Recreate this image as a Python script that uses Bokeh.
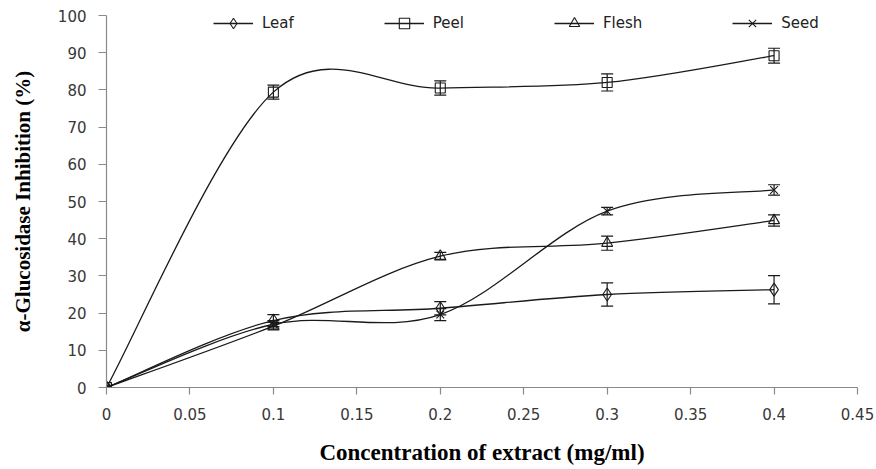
import numpy as np
from bokeh.plotting import figure
from bokeh.models import (Range1d, FixedTicker, Legend, LegendItem, Whisker,
                          TeeHead, ColumnDataSource)
from bokeh.embed import file_html
from bokeh.resources import INLINE

# ---------------- data ----------------
conc = [0, 0.1, 0.2, 0.3, 0.4]
series_names = ["Leaf", "Peel", "Flesh", "Seed"]
leaf = [0, 18.0, 21.3, 25.0, 26.3]
leaf_err = [0, 1.6, 1.8, 3.1, 3.8]
peel = [0, 79.4, 80.5, 82.0, 89.2]
peel_err = [0, 1.9, 1.9, 2.3, 2.0]
flesh = [0, 16.5, 35.3, 38.8, 44.9]
flesh_err = [0, 1.0, 1.0, 1.9, 1.5]
seed = [0, 17.0, 19.6, 47.4, 53.1]
seed_err = [0, 1.0, 1.6, 1.0, 1.4]

x_ticks = [0, 0.05, 0.1, 0.15, 0.2, 0.25, 0.3, 0.35, 0.4, 0.45]
x_tick_labels = ["0", "0.05", "0.1", "0.15", "0.2", "0.25", "0.3", "0.35", "0.4", "0.45"]
y_ticks = [0, 10, 20, 30, 40, 50, 60, 70, 80, 90, 100]

x_title = "Concentration of extract (mg/ml)"
y_title = "\u03b1-Glucosidase Inhibition (%)"

values = [leaf, peel, flesh, seed]
errors = [leaf_err, peel_err, flesh_err, seed_err]
markers = ["diamond", "square", "triangle", "x"]
marker_sizes = [13, 10, 11, 11]

INK = "#1a1a1a"
AXIS = "#8a8a8a"

p = figure(width=876, height=469, output_backend="svg", toolbar_location=None,
           x_range=Range1d(0, 0.45), y_range=Range1d(0, 100),
           min_border_left=106, min_border_right=19, min_border_top=15,
           min_border_bottom=82, background_fill_color="white",
           border_fill_color="white")
p.outline_line_color = None
p.grid.visible = False


def smooth_segments(xs, ys):
    """Excel-style smoothed line: cubic Bezier control points."""
    P = np.column_stack([xs, ys]).astype(float)
    n = len(P)
    out = {k: [] for k in ["x0", "y0", "x1", "y1", "cx0", "cy0", "cx1", "cy1"]}
    for i in range(n - 1):
        pm = P[i - 1] if i > 0 else P[i]
        pp = P[i + 2] if i + 2 < n else P[i + 1]
        c1 = P[i] + (P[i + 1] - pm) / 6.0
        c2 = P[i + 1] - (pp - P[i]) / 6.0
        out["x0"].append(P[i][0]); out["y0"].append(P[i][1])
        out["x1"].append(P[i + 1][0]); out["y1"].append(P[i + 1][1])
        out["cx0"].append(c1[0]); out["cy0"].append(c1[1])
        out["cx1"].append(c2[0]); out["cy1"].append(c2[1])
    return out


items = []
for name, ys, errs, mk, ms in zip(series_names, values, errors, markers, marker_sizes):
    seg = ColumnDataSource(smooth_segments(conc, ys))
    br = p.bezier(x0="x0", y0="y0", x1="x1", y1="y1", cx0="cx0", cy0="cy0",
                  cx1="cx1", cy1="cy1", source=seg, line_color=INK, line_width=1.3)
    # error bars (skip zero-error points)
    ex = [x for x, e in zip(conc, errs) if e > 0]
    up = [y + e for y, e in zip(ys, errs) if e > 0]
    lo = [y - e for y, e in zip(ys, errs) if e > 0]
    esrc = ColumnDataSource(dict(x=ex, upper=up, lower=lo))
    w = Whisker(base="x", upper="upper", lower="lower", source=esrc,
                line_color=INK, line_width=1.2,
                upper_head=TeeHead(size=12, line_color=INK, line_width=1.2),
                lower_head=TeeHead(size=12, line_color=INK, line_width=1.2))
    p.add_layout(w)
    sr = p.scatter(x=conc, y=ys, marker=mk, size=ms, line_color=INK,
                   line_width=1.1, fill_alpha=0)
    items.append(LegendItem(label=name, renderers=[br, sr]))

legend = Legend(items=items, location=(107, 351), orientation="horizontal",
                spacing=90, padding=0, margin=0, glyph_width=40, glyph_height=26,
                label_height=26, label_standoff=9, border_line_alpha=0,
                background_fill_alpha=0, label_text_font="DejaVu Sans",
                label_text_font_size="15px", label_text_color="#222222")
p.add_layout(legend)

# axes
p.xaxis.ticker = FixedTicker(ticks=x_ticks)
p.xaxis.major_label_overrides = {t: l for t, l in zip(x_ticks, x_tick_labels)}
p.yaxis.ticker = FixedTicker(ticks=y_ticks)
for ax in (p.xaxis[0], p.yaxis[0]):
    ax.axis_line_color = AXIS
    ax.axis_line_width = 1.2
    ax.major_tick_line_color = AXIS
    ax.major_tick_line_width = 1.2
    ax.major_tick_in = 0
    ax.minor_tick_line_color = None
    ax.major_label_text_font = "DejaVu Sans"
    ax.major_label_text_font_size = "15px"
    ax.major_label_text_color = "#383838"
    ax.axis_label_text_font = "Liberation Serif"
    ax.axis_label_text_font_style = "bold"
    ax.axis_label_text_color = "#000000"

p.xaxis.axis_label_text_font_size = "23px"
p.yaxis.axis_label_text_font_size = "21px"
p.xaxis.axis_label = x_title
p.yaxis.axis_label = y_title
p.xaxis.major_tick_out = 7
p.yaxis.major_tick_out = 8
p.xaxis.major_label_standoff = 13
p.yaxis.major_label_standoff = 12
p.xaxis.axis_label_standoff = 17
p.yaxis.axis_label_standoff = 20

open("out.html", "w").write(file_html(p, INLINE))
